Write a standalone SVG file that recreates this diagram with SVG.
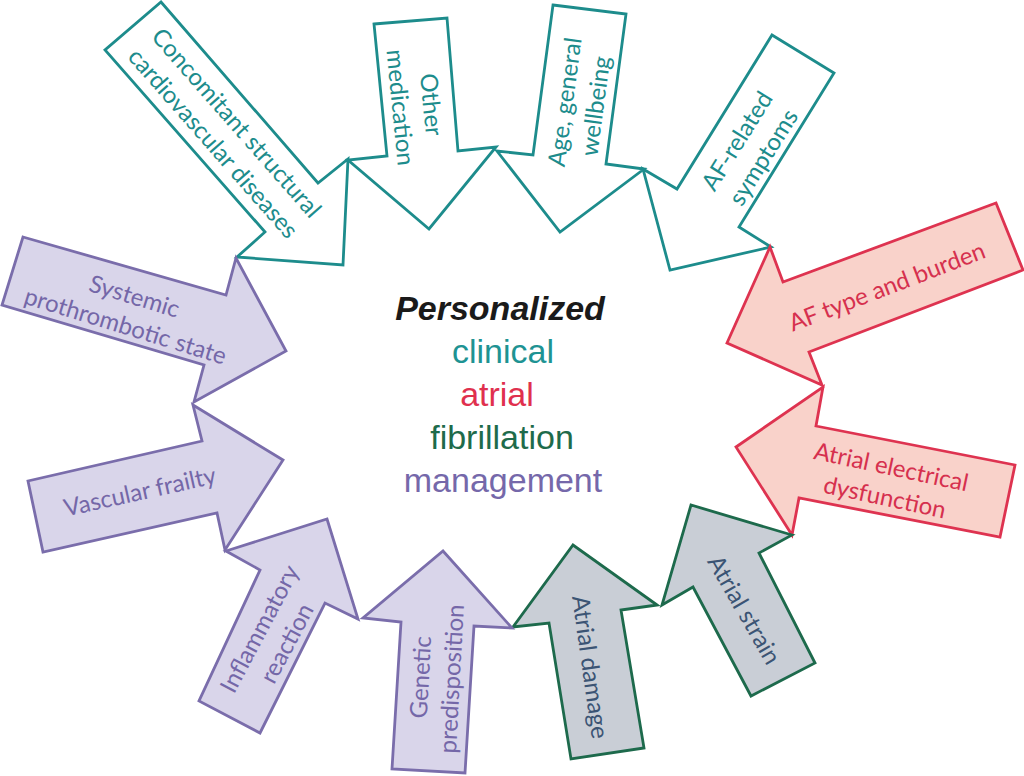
<svg xmlns="http://www.w3.org/2000/svg" width="1024" height="776" viewBox="0 0 1024 776">
<style>
.arrow{stroke-width:2.8;stroke-linejoin:miter}
.teal{fill:#ffffff;stroke:#1d8c8c}
.red{fill:#f9d2ca;stroke:#de3350}
.green{fill:#c9ced6;stroke:#1d6a4c}
.purple{fill:#d9d5ea;stroke:#7a6dab}
.lbl{font-family:Lato,"Open Sans",sans-serif;font-size:24px;text-anchor:middle}
.tteal{fill:#1d8c8c}
.tred{fill:#d6304e}
.tgreen{fill:#3b5474}
.tpurple{fill:#7467a8}
.ctr{font-family:"Liberation Sans",Arial,sans-serif;font-size:34px;text-anchor:middle}
</style>
<rect width="1024" height="776" fill="#ffffff"/>
<g id="connectors"></g>
<g id="n-concomitant">
<polygon class="arrow teal" points="161,2 318,183 348,159 343,265 237,257 265,232 105,50"/>
<g transform="translate(225,133) rotate(48.7)"><text class="lbl tteal"><tspan x="0" y="-7">Concomitant structural</tspan><tspan x="0" y="24">cardiovascular diseases</tspan></text></g>
</g>
<g id="n-medication">
<polygon class="arrow teal" points="374,24 447,18 458,151 496,147 429,229 348,160 387,156"/>
<g transform="translate(416,106) rotate(84.4)"><text class="lbl tteal"><tspan x="0" y="-7">Other</tspan><tspan x="0" y="24">medication</tspan></text></g>
</g>
<g id="n-age">
<polygon class="arrow teal" points="553,5 626,14 606,164 644,169 560,232 497,151 533,155"/>
<g transform="translate(580,104) rotate(-82.4)"><text class="lbl tteal"><tspan x="0" y="-7">Age, general</tspan><tspan x="0" y="24">wellbeing</tspan></text></g>
</g>
<g id="n-symptoms">
<polygon class="arrow teal" points="772,35 834,73 739,227 771,247 670,270 643,169 677,189"/>
<g transform="translate(750,149) rotate(-58)"><text class="lbl tteal"><tspan x="0" y="-7">AF-related</tspan><tspan x="0" y="24">symptoms</tspan></text></g>
</g>
<g id="n-aftype">
<polygon class="arrow red" points="996,203 1023,270 809,352 822,385 727,343 770,247 783,282"/>
<g transform="translate(887,287) rotate(-21)"><text class="lbl tred" y="8">AF type and burden</text></g>
</g>
<g id="n-electrical">
<polygon class="arrow red" points="823,387 816,426 1015,465 1000,537 799,498 792,535 736,447"/>
<g transform="translate(888,482) rotate(12)"><text class="lbl tred"><tspan x="0" y="-7">Atrial electrical</tspan><tspan x="0" y="24">dysfunction</tspan></text></g>
</g>
<g id="n-strain">
<polygon class="arrow green" points="792,535 691,505 662,605 693,587 751,696 815,663 759,553"/>
<g transform="translate(744,610) rotate(60)"><text class="lbl tgreen" y="8">Atrial strain</text></g>
</g>
<g id="n-damage">
<polygon class="arrow green" points="657,605 573,545 513,627 549,623 571,759 644,748 621,610"/>
<g transform="translate(590,667) rotate(82)"><text class="lbl tgreen" y="8">Atrial damage</text></g>
</g>
<g id="n-genetic">
<polygon class="arrow purple" points="443,551 512,628 474,626 465,773 392,769 401,622 363,618"/>
<g transform="translate(436,678) rotate(-87)"><text class="lbl tpurple"><tspan x="0" y="-7">Genetic</tspan><tspan x="0" y="24">predisposition</tspan></text></g>
</g>
<g id="n-inflammatory">
<polygon class="arrow purple" points="327,519 358,619 325,603 260,733 199,701 260,570 226,551"/>
<g transform="translate(273,636) rotate(-62)"><text class="lbl tpurple"><tspan x="0" y="-7">Inflammatory</tspan><tspan x="0" y="24">reaction</tspan></text></g>
</g>
<g id="n-vascular">
<polygon class="arrow purple" points="193,405 283,460 225,550 217,513 43,552 28,481 202,441"/>
<g transform="translate(140,492) rotate(-12.5)"><text class="lbl tpurple" y="8">Vascular frailty</text></g>
</g>
<g id="n-systemic">
<polygon class="arrow purple" points="23,237 226,295 236,258 286,351 194,402 204,365 2,305"/>
<g transform="translate(130,311) rotate(17)"><text class="lbl tpurple"><tspan x="0" y="-7">Systemic</tspan><tspan x="0" y="24">prothrombotic state</tspan></text></g>
</g>
<g id="n-center">
<text class="ctr" x="500" y="320" font-weight="bold" font-style="italic" fill="#1a1a1a" font-size="33">Personalized</text>
<text class="ctr" x="503" y="363" fill="#1e9393">clinical</text>
<text class="ctr" x="497" y="406" fill="#e0304e">atrial</text>
<text class="ctr" x="502" y="449" fill="#1e6b4b">fibrillation</text>
<text class="ctr" x="503" y="492" fill="#7568aa">management</text>
</g>
</svg>
